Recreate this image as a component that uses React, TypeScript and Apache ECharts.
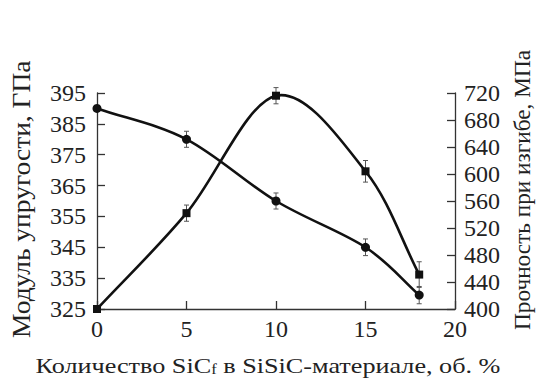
import React, { useEffect, useRef } from "react";
import * as echarts from "echarts";

const sicContent = [0, 5, 10, 15, 18];
const modulus = [390, 380, 360, 345, 329.5];
const modulusErr = [0, 2.6, 2.6, 2.7, 2.8];
const strength = [400, 542, 716, 604, 451];
const strengthErr = [0, 12, 12, 16, 19];

const leftTitle = "Модуль упругости, ГПа";
const rightTitle = "Прочность при изгибе, МПа";

const FONT = "'Liberation Serif', 'Times New Roman', serif";

function errorSeries(vals: number[], errs: number[], yAxisIndex: number) {
  return {
    type: "custom",
    yAxisIndex,
    silent: true,
    z: 1,
    data: sicContent.map((x, i) => [x, vals[i] - errs[i], vals[i] + errs[i]]),
    encode: { x: 0, y: [1, 2] },
    renderItem: (params: any, api: any) => {
      const x = api.value(0);
      const lo = api.coord([x, api.value(1)]);
      const hi = api.coord([x, api.value(2)]);
      const w = 2.5;
      const style = { stroke: "#555", lineWidth: 1 };
      return {
        type: "group",
        children: [
          { type: "line", shape: { x1: lo[0], y1: lo[1], x2: hi[0], y2: hi[1] }, style },
          { type: "line", shape: { x1: lo[0] - w, y1: lo[1], x2: lo[0] + w, y2: lo[1] }, style },
          { type: "line", shape: { x1: hi[0] - w, y1: hi[1], x2: hi[0] + w, y2: hi[1] }, style },
        ],
      };
    },
  };
}

// Catmull-Rom curve segments drawn in pixel space from the data points
function curveSeries(vals: number[], yAxisIndex: number) {
  const n = sicContent.length;
  const data = [] as number[][];
  for (let i = 0; i < n - 1; i++) {
    const i0 = Math.max(0, i - 1);
    const i3 = Math.min(n - 1, i + 2);
    data.push([
      sicContent[i], vals[i],
      sicContent[i + 1], vals[i + 1],
      sicContent[i0], vals[i0],
      sicContent[i3], vals[i3],
      i === 0 ? 1 : 0,
      i + 2 > n - 1 ? 1 : 0,
    ]);
  }
  return {
    type: "custom",
    yAxisIndex,
    silent: true,
    z: 2,
    data,
    encode: { x: [0, 2], y: [1, 3] },
    renderItem: (params: any, api: any) => {
      const p1 = api.coord([api.value(0), api.value(1)]);
      const p2 = api.coord([api.value(2), api.value(3)]);
      let p0 = api.coord([api.value(4), api.value(5)]);
      let p3 = api.coord([api.value(6), api.value(7)]);
      if (api.value(8)) p0 = [2 * p1[0] - p2[0], 2 * p1[1] - p2[1]];
      if (api.value(9)) p3 = [2 * p2[0] - p1[0], 2 * p2[1] - p1[1]];
      const k = 6;
      const cp1 = [p1[0] + (p2[0] - p0[0]) / k, p1[1] + (p2[1] - p0[1]) / k];
      const cp2 = [p2[0] - (p3[0] - p1[0]) / k, p2[1] - (p3[1] - p1[1]) / k];
      return {
        type: "bezierCurve",
        shape: {
          x1: p1[0], y1: p1[1], x2: p2[0], y2: p2[1],
          cpx1: cp1[0], cpy1: cp1[1], cpx2: cp2[0], cpy2: cp2[1],
        },
        style: { stroke: "#111", lineWidth: 2.6, fill: "none" },
      };
    },
  };
}

export default function App() {
  const ref = useRef<HTMLDivElement>(null);
  useEffect(() => {
    if (!ref.current) return;
    const chart = echarts.init(ref.current, null, { renderer: "svg" });
    const axisLine = { show: true, lineStyle: { color: "#333", width: 1.3 } };
    const axisTick = { show: true, inside: true, length: 8, lineStyle: { color: "#333", width: 1.3 } };
    const axisLabel = { color: "#222", fontFamily: FONT, fontSize: 24 };
    chart.setOption({
      animation: false,
      backgroundColor: "#fff",
      textStyle: { fontFamily: FONT },
      grid: { left: 97, right: 81, top: 93, bottom: 73 },
      xAxis: {
        type: "value",
        min: 0,
        max: 20,
        interval: 5,
        axisLine,
        axisTick,
        splitLine: { show: false },
        axisLabel: { ...axisLabel, margin: 8 },
      },
      yAxis: [
        {
          type: "value",
          position: "left",
          min: 325,
          max: 395,
          interval: 10,
          axisLine,
          axisTick,
          splitLine: { show: false },
          axisLabel: { ...axisLabel, margin: 11 },
        },
        {
          type: "value",
          position: "right",
          min: 400,
          max: 720,
          interval: 40,
          axisLine,
          axisTick,
          splitLine: { show: false },
          axisLabel: { ...axisLabel, margin: 9 },
        },
      ],
      graphic: [
        {
          type: "text",
          x: 22,
          y: 338,
          rotation: Math.PI / 2,
          scaleX: 1.1,
          style: {
            text: leftTitle,
            font: `25px ${FONT}`,
            fill: "#222",
            textAlign: "left",
            textVerticalAlign: "middle",
          },
        },
        {
          type: "text",
          x: 522,
          y: 330,
          rotation: Math.PI / 2,
          scaleX: 0.97,
          style: {
            text: rightTitle,
            font: `24px ${FONT}`,
            fill: "#222",
            textAlign: "left",
            textVerticalAlign: "middle",
          },
        },
        {
          type: "text",
          x: 268,
          y: 365,
          scaleX: 1.19,
          style: {
            text: "{a|Количество SiC}{s|f}{a| в SiSiC-материале, об. %}",
            textAlign: "center",
            textVerticalAlign: "middle",
            rich: {
              a: { fontFamily: FONT, fontSize: 22, fill: "#222" },
              s: { fontFamily: FONT, fontSize: 14, fill: "#222", padding: [8, 0, 0, 0] },
            },
          },
        },
      ],
      series: [
        errorSeries(modulus, modulusErr, 0),
        errorSeries(strength, strengthErr, 1),
        curveSeries(modulus, 0),
        curveSeries(strength, 1),
        {
          type: "line",
          yAxisIndex: 0,
          data: sicContent.map((x, i) => [x, modulus[i]]),
          symbol: "circle",
          symbolSize: 9,
          lineStyle: { width: 0 },
          itemStyle: { color: "#111" },
          z: 3,
        },
        {
          type: "line",
          yAxisIndex: 1,
          data: sicContent.map((x, i) => [x, strength[i]]),
          symbol: "rect",
          symbolSize: 8,
          lineStyle: { width: 0 },
          itemStyle: { color: "#111" },
          z: 3,
        },
      ],
    });
    return () => chart.dispose();
  }, []);
  return (
    <div
      ref={ref}
      style={{ position: "fixed", left: 0, top: 0, width: 536, height: 382 }}
    />
  );
}
